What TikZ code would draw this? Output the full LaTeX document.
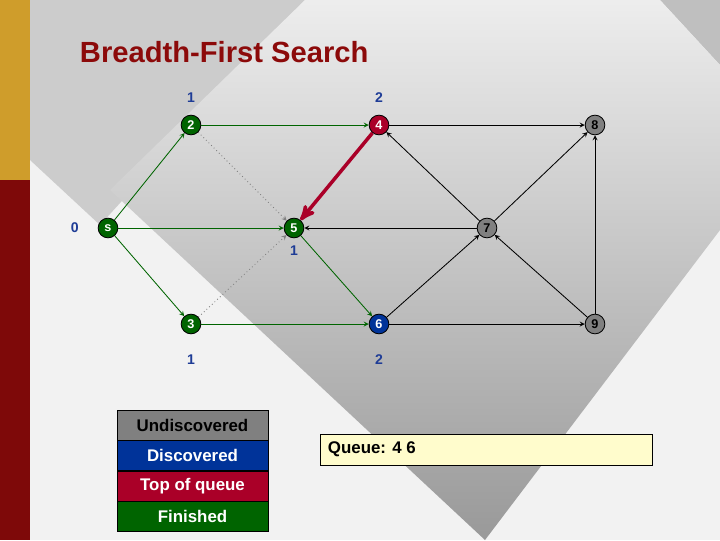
\documentclass[tikz,border=0pt]{standalone}
\usepackage{fontspec}
\setmainfont{Liberation Sans}
\usetikzlibrary{arrows,shapes,positioning}
\definecolor{fingreen}{RGB}{0,100,0}
\definecolor{discblue}{RGB}{0,51,153}
\definecolor{topred}{RGB}{170,0,40}
\definecolor{undgray}{RGB}{128,128,128}
\definecolor{labelblue}{RGB}{30,60,150}
\definecolor{titlered}{RGB}{140,10,10}

\begin{document}
\begin{tikzpicture}[x=0.025cm,y=-0.025cm, >=stealth,
        every vertex/.style={circle,draw=black,semithick,inner sep=0pt,minimum size=14pt,font=\bfseries\small,text=white},
        finished/.style={every vertex,fill=fingreen},
        discovered/.style={every vertex,fill=discblue},
        topqueue/.style={every vertex,fill=topred},
        undiscovered/.style={every vertex,fill=undgray,text=black},
        dist/.style={text=labelblue,font=\bfseries},
        treeedge/.style={->,fingreen,semithick},
        plainedge/.style={->,black,semithick},
        crossedge/.style={->,gray,dotted,semithick},
        legend/.style={draw=black,minimum width=3.78cm,minimum height=0.75cm,text=white,font=\bfseries\large}]
    % background
    \fill[black!5] (0,0) rectangle (720,540);
    \fill[black!20] (30,0) -- (305,0) -- (100,225) -- (30,160) -- cycle;
    \fill[black!25] (660,0) -- (720,0) -- (720,65) -- cycle;
    \shade[top color=black!7,bottom color=black!40] (305,0) -- (660,0) -- (720,65) -- (720,230) -- (485,540) -- (110,190) -- cycle;
    \fill[yellow!70!red!80!black] (0,0) rectangle (30,180);
    \fill[titlered!90!black] (0,180) rectangle (30,540);
    \node[anchor=west,text=titlered,font=\bfseries\huge] (title) at (75,52) {Breadth-First Search};

    % vertices
    \node[finished]     (s) at (108,228) {s};
    \node[finished]     (v2) at (191,125) {2};
    \node[topqueue]     (v4) at (379,125) {4};
    \node[undiscovered] (v8) at (595,125) {8};
    \node[finished]     (v5) at (294,228) {5};
    \node[undiscovered] (v7) at (487,228) {7};
    \node[finished]     (v3) at (191,324) {3};
    \node[discovered]   (v6) at (379,324) {6};
    \node[undiscovered] (v9) at (595,324) {9};

    % distances
    \node[dist] (d0) [left=10pt of s]  {0};
    \node[dist] (d2) [above=5pt of v2] {1};
    \node[dist] (d4) [above=5pt of v4] {2};
    \node[dist] (d5) [below=2pt of v5] {1};
    \node[dist] (d3) [below=11pt of v3] {1};
    \node[dist] (d6) [below=11pt of v6] {2};

    % edges
    \path[treeedge] (s) edge (v2) (s) edge (v5) (s) edge (v3)
                    (v2) edge (v4) (v3) edge (v6) (v5) edge (v6);
    \path[crossedge] (v2) edge (v5) (v3) edge (v5);
    \path[plainedge] (v4) edge (v8) (v7) edge (v4) (v7) edge (v5)
                     (v6) edge (v7) (v7) edge (v8) (v9) edge (v7)
                     (v6) edge (v9) (v9) edge (v8);
    \draw[->,topred,line width=2.5pt,>=stealth'] (v4) -- (v5);

    % legend
    \node[legend,fill=undgray,text=black] (lund) at (192.5,425) {Undiscovered};
    \node[legend,fill=discblue] (ldisc) [below=0pt of lund] {Discovered};
    \node[legend,fill=topred]   (ltop)  [below=0pt of ldisc] {Top of queue};
    \node[legend,fill=fingreen] (lfin)  [below=0pt of ltop] {Finished};
    \node[draw=black,fill=yellow!20,minimum width=8.3cm,minimum height=0.78cm,anchor=north west,inner sep=0pt] (queue) at (320,434) {};
    \node[anchor=west,font=\bfseries\large] (qtext) at (323,449) {Queue: 4 6};
\end{tikzpicture}
\end{document}
